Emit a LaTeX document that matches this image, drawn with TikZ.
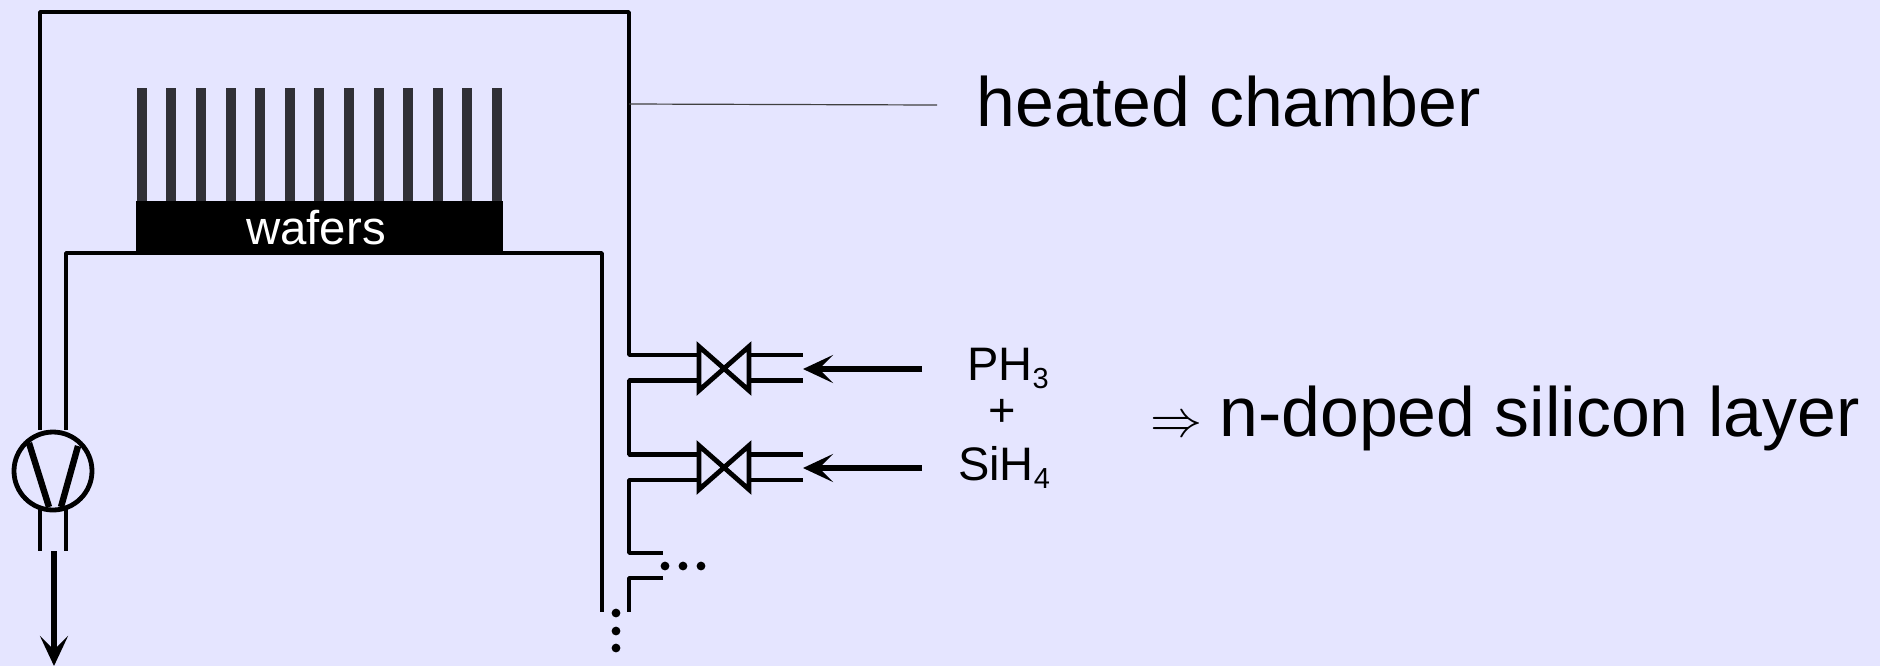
\RequirePackage{fix-cm}
\documentclass[tikz,border=0pt]{standalone}
\usepackage{fontspec}
\setmainfont{Liberation Sans}
\usetikzlibrary{arrows.meta}
\definecolor{bgc}{HTML}{E5E5FF}
\definecolor{waferc}{HTML}{303036}
\tikzset{
  pipe/.style={line width=2.4pt,black,line join=bevel},
  flow/.style={line width=3.2pt,black,-{Stealth[length=15pt,width=14pt,inset=7pt]}},
  wafer/.style={fill=waferc,draw=none,inner sep=0pt,minimum width=5pt,minimum height=57pt},
  label/.style={inner sep=0pt,black},
  dotc/.style={circle,fill=black,inner sep=0pt,minimum size=4.4pt},
}
\newcommand{\fs}[1]{\fontsize{#1}{#1}\selectfont}
\begin{document}
\begin{tikzpicture}[x=0.5pt,y=-0.5pt]
\fill[bgc] (0,0) rectangle (1880,666);
\useasboundingbox (0,0) rectangle (1880,666);
% named points
\coordinate (oTL) at (40,12);
\coordinate (oTR) at (629,12);
\coordinate (iTL) at (66,253);
\coordinate (iTR) at (602,253);
\coordinate (iB) at (602,612);
\node[circle,draw=black,line width=2.4pt,minimum size=39pt,inner sep=0pt] (pump) at (53,471) {};
\coordinate (v1) at (724,368.5);
\coordinate (v2) at (724,467.5);
% wafers
\foreach \i in {0,...,12}{
  \node[wafer,anchor=north] (w\i) at ({141.9+29.58*\i},88) {};
}
\node[fill=black,inner sep=0pt,minimum width=183.5pt,minimum height=26.5pt,anchor=north west] (base) at (136,201) {};
\node[label,text=white,anchor=base] (waferlabel) at (316,244) {\fs{23.7}wafers};
% chamber and inner tube
\draw[pipe] (pump.north -| oTL) -- (oTL) -- (oTR) -- (629,355) -- (698,355);
\draw[pipe] (pump.north -| iTL) -- (iTL) -- (iTR) -- (iB);
% gas feeds
\draw[pipe] (698,380.5) -- (629,380.5) -- (629,454.5) -- (698,454.5);
\draw[pipe] (698,480) -- (629,480) -- (629,553) -- (663,553);
\draw[pipe] (663,578) -- (629,578) -- (629,612);
\draw[pipe] (750,355) -- (803,355);
\draw[pipe] (750,380.5) -- (803,380.5);
\draw[pipe] (750,454.5) -- (803,454.5);
\draw[pipe] (750,480) -- (803,480);
% valves
\foreach \v in {v1,v2}{
  \draw[pipe,line join=miter] ([shift={(-25,-22)}]\v) -- ([shift={(25,22)}]\v) -- ([shift={(25,-22)}]\v) -- ([shift={(-25,22)}]\v) -- cycle;
}
% pump
\draw[line width=3.2pt] (29,443) -- (49,507);
\draw[line width=3.2pt] (78,446) -- (61,507);
\draw[pipe] (40,508) -- (40,551);
\draw[pipe] (66,508) -- (66,551);
% arrows
\coordinate (aO) at (54,551);
\coordinate (aE) at (54,666);
\draw[flow] (aO) -- (aE);
\coordinate (a1) at (922,369);
\coordinate (a1e) at (803,369);
\coordinate (a2) at (922,468);
\coordinate (a2e) at (803,468);
\draw[flow] (a1) -- (a1e);
\draw[flow] (a2) -- (a2e);
% continuation dots
\foreach \x in {665,683,701}{\node[dotc] at (\x,566) {};}
\foreach \y in {613,631,648}{\node[dotc] at (616,\y) {};}
% leader and labels
\coordinate (lead) at (937,105);
\draw[line width=0.6pt,black!75] (629,104) -- (lead);
\node[label,anchor=base west] (hc) at (976,126) {\fs{34.9}heated chamber};
\node[label,anchor=base] (ph) at (1008,380) {\fs{23.5}PH\raisebox{-4pt}{\fs{14.5}3}};
\node[label,anchor=base] (plus) at (1002,426) {\fs{23.5}+};
\node[label,anchor=base] (si) at (1004,480) {\fs{23.5}SiH\raisebox{-4pt}{\fs{14.5}4}};
\node[label,anchor=base west] (imp) at (1150,436) {\fs{26}$\Rightarrow$};
\node[label,anchor=base west] (nd) at (1219,436) {\fs{34.9}n-doped silicon layer};
\end{tikzpicture}
\end{document}
